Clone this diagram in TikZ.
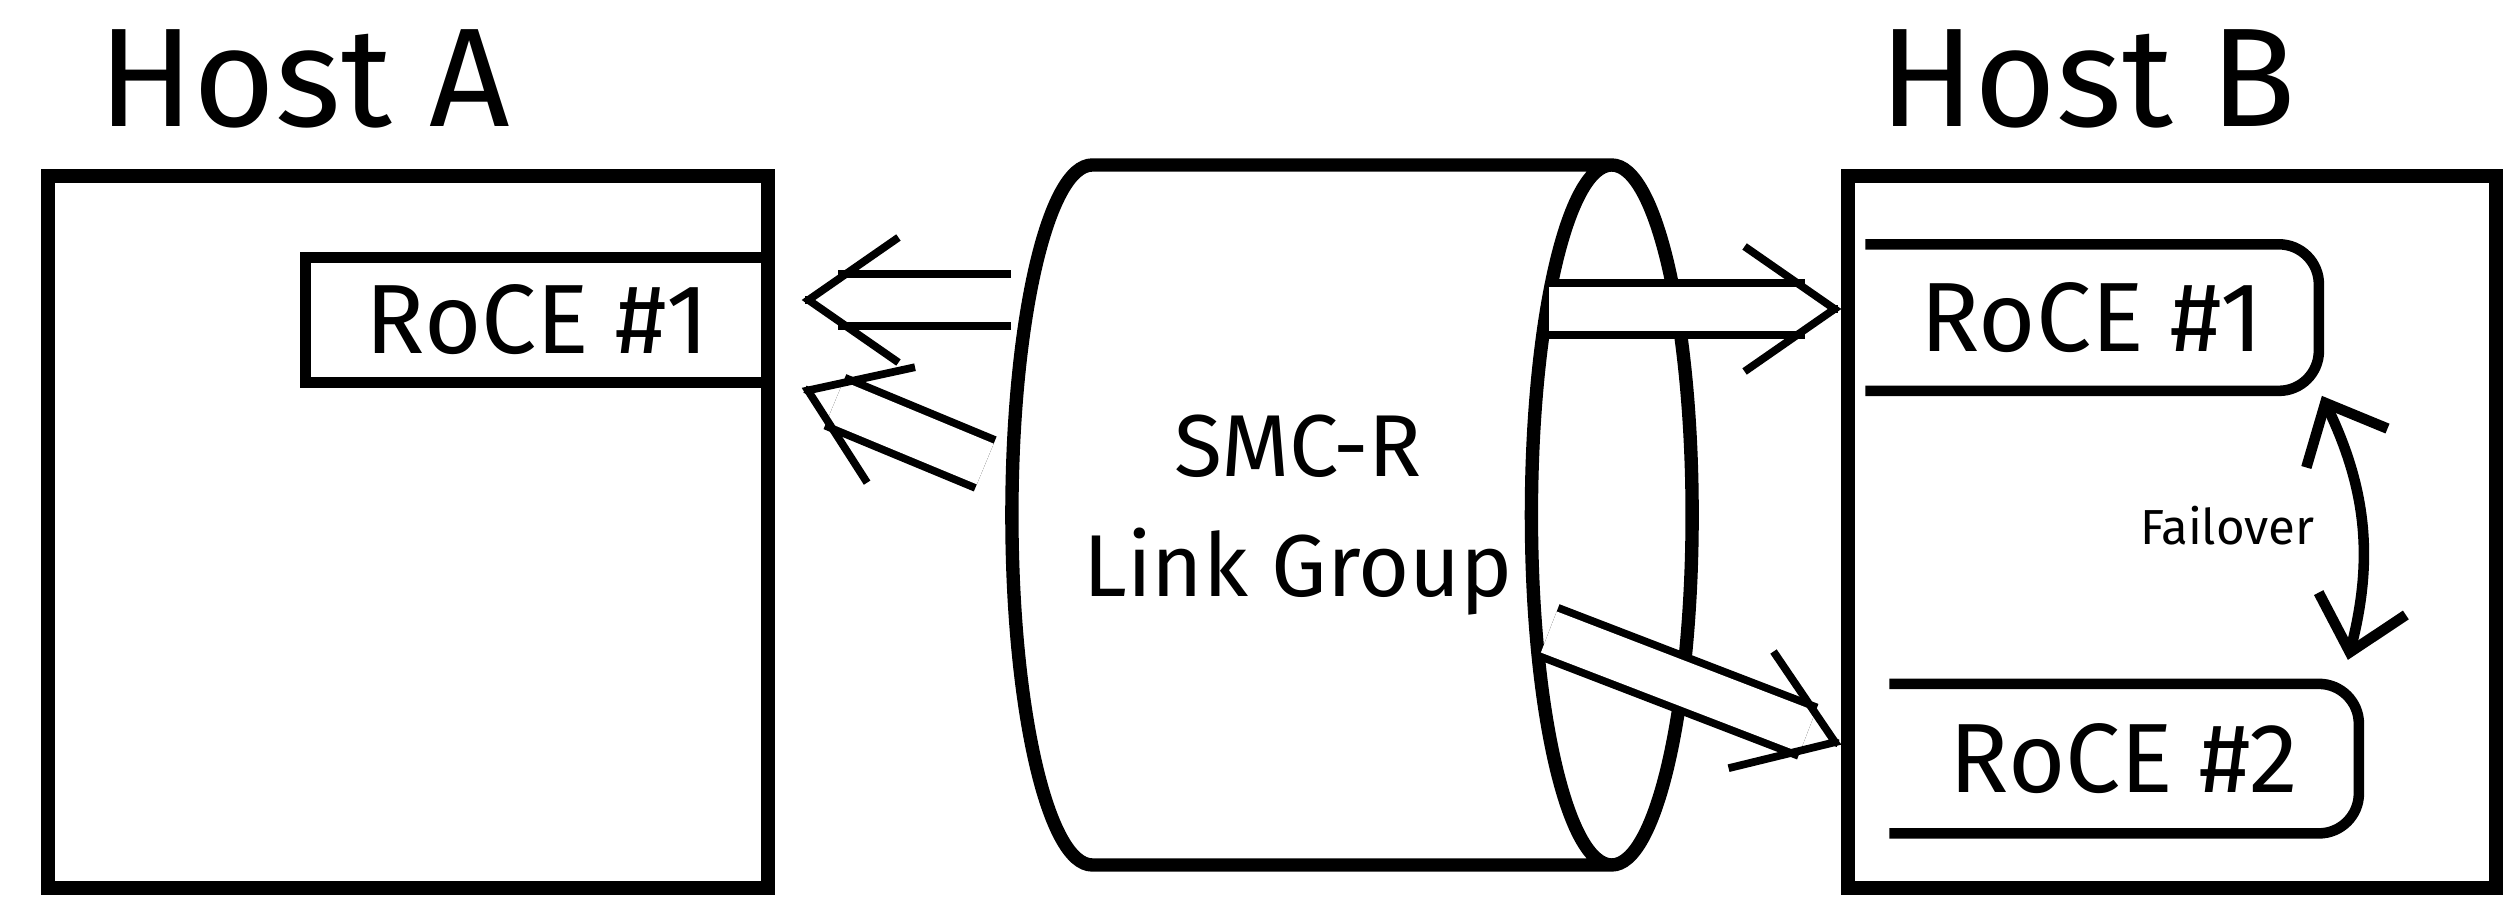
\documentclass[tikz,border=0pt]{standalone}
\usepackage{fontspec}
\setmainfont{Fira Sans}
\usetikzlibrary{arrows.meta,positioning,shapes.geometric,calc}

\begin{document}
\begin{tikzpicture}[
  x=0.1mm, y=-0.1mm,
  font=\fontsize{28}{32}\selectfont,
  >={Straight Barb[length=5mm, width=9mm]},
  host/.style={draw, line width=3.8pt, minimum width=#1,
    minimum height=71.2mm, inner sep=0pt},
  title/.style={font=\fontsize{40}{46}\selectfont, inner sep=0pt},
  nic/.style={line width=3pt, inner sep=0pt},
  link/.style={double, double distance=4.4mm, line width=2.2pt, shorten >=3.6mm},
  head/.style={line width=2.2pt, -{Straight Barb[length=9mm, width=12.5mm]}},
  fail/.style={<->, line width=3pt}
]
  \useasboundingbox (0,0) rectangle (2510,904);

  % hosts
  \node[host=72mm] (hostA) at (408,532) {};
  \node[host=64.8mm] (hostB) at (2172,532) {};
  \node[title, above right=4mm and 5.6mm of hostA.north west] (titleA) {Host A};
  \node[title, above right=4mm and 3.7mm of hostB.north west] (titleB) {Host B};

  % RoCE cards
  \node[nic, draw, minimum width=46.4mm, minimum height=12.5mm,
    below left=8.3mm and 0mm of hostA.north east] (nicA) {RoCE \#1};
  \node[nic, minimum width=44.3mm, minimum height=13.6mm,
    below right=7.5mm and 2.4mm of hostB.north west] (nicB1) {RoCE \#1};
  \node[nic, minimum width=45.9mm, minimum height=13.9mm,
    below right=29.3mm and 2.4mm of nicB1.south west] (nicB2) {RoCE \#2};
  \draw[nic, rounded corners=4mm] (nicB1.north west) -- (nicB1.north east)
    -- (nicB1.south east) -- (nicB1.south west);
  \draw[nic, rounded corners=4mm] (nicB2.north west) -- (nicB2.north east)
    -- (nicB2.south east) -- (nicB2.south west);

  % link group (minimum width/height swap for a lying cylinder)
  \node[cylinder, draw, line width=3.8pt, minimum width=70mm, minimum height=66.5mm,
    aspect=0.72, align=center, anchor=shape center,
    font=\fontsize{25}{34}\selectfont] (smc) at (1352,515) {SMC-R\\Link Group};

  \coordinate (outA1) at ([xshift=0.6mm, yshift=21.5mm]smc.west);
  \coordinate (outA2) at ([xshift=-2mm, yshift=5.1mm]smc.west);
  \coordinate (outB1) at ([xshift=-15mm, yshift=20.6mm]smc.east);
  \coordinate (outB2) at ([xshift=-15mm, yshift=-11.7mm]smc.east);
  \coordinate (inA1) at ([xshift=2.7mm]outA1 -| hostA.east);
  \coordinate (inA2) at ([xshift=2.7mm]hostA.east |- nicA.south);
  \coordinate (inB1) at (hostB.west |- outB1);
  \coordinate (inB2) at ([yshift=1.4mm]hostB.west |- nicB2.center);

  \foreach \s/\t in {outA1/inA1, outA2/inA2, outB1/inB1, outB2/inB2} {
    \draw[link] (\s) -- (\t);
    \draw[head] ($(\t)!1pt!(\s)$) -- (\t);
  }

  \draw[fail] ([xshift=0.3mm, yshift=-0.5mm]nicB1.south east) to[bend left=20]
    node[left=3mm, font=\fontsize{14}{16}\selectfont] (failover) {Failover}
    ([xshift=-1.1mm, yshift=2.4mm]nicB2.north east);
\end{tikzpicture}
\end{document}
